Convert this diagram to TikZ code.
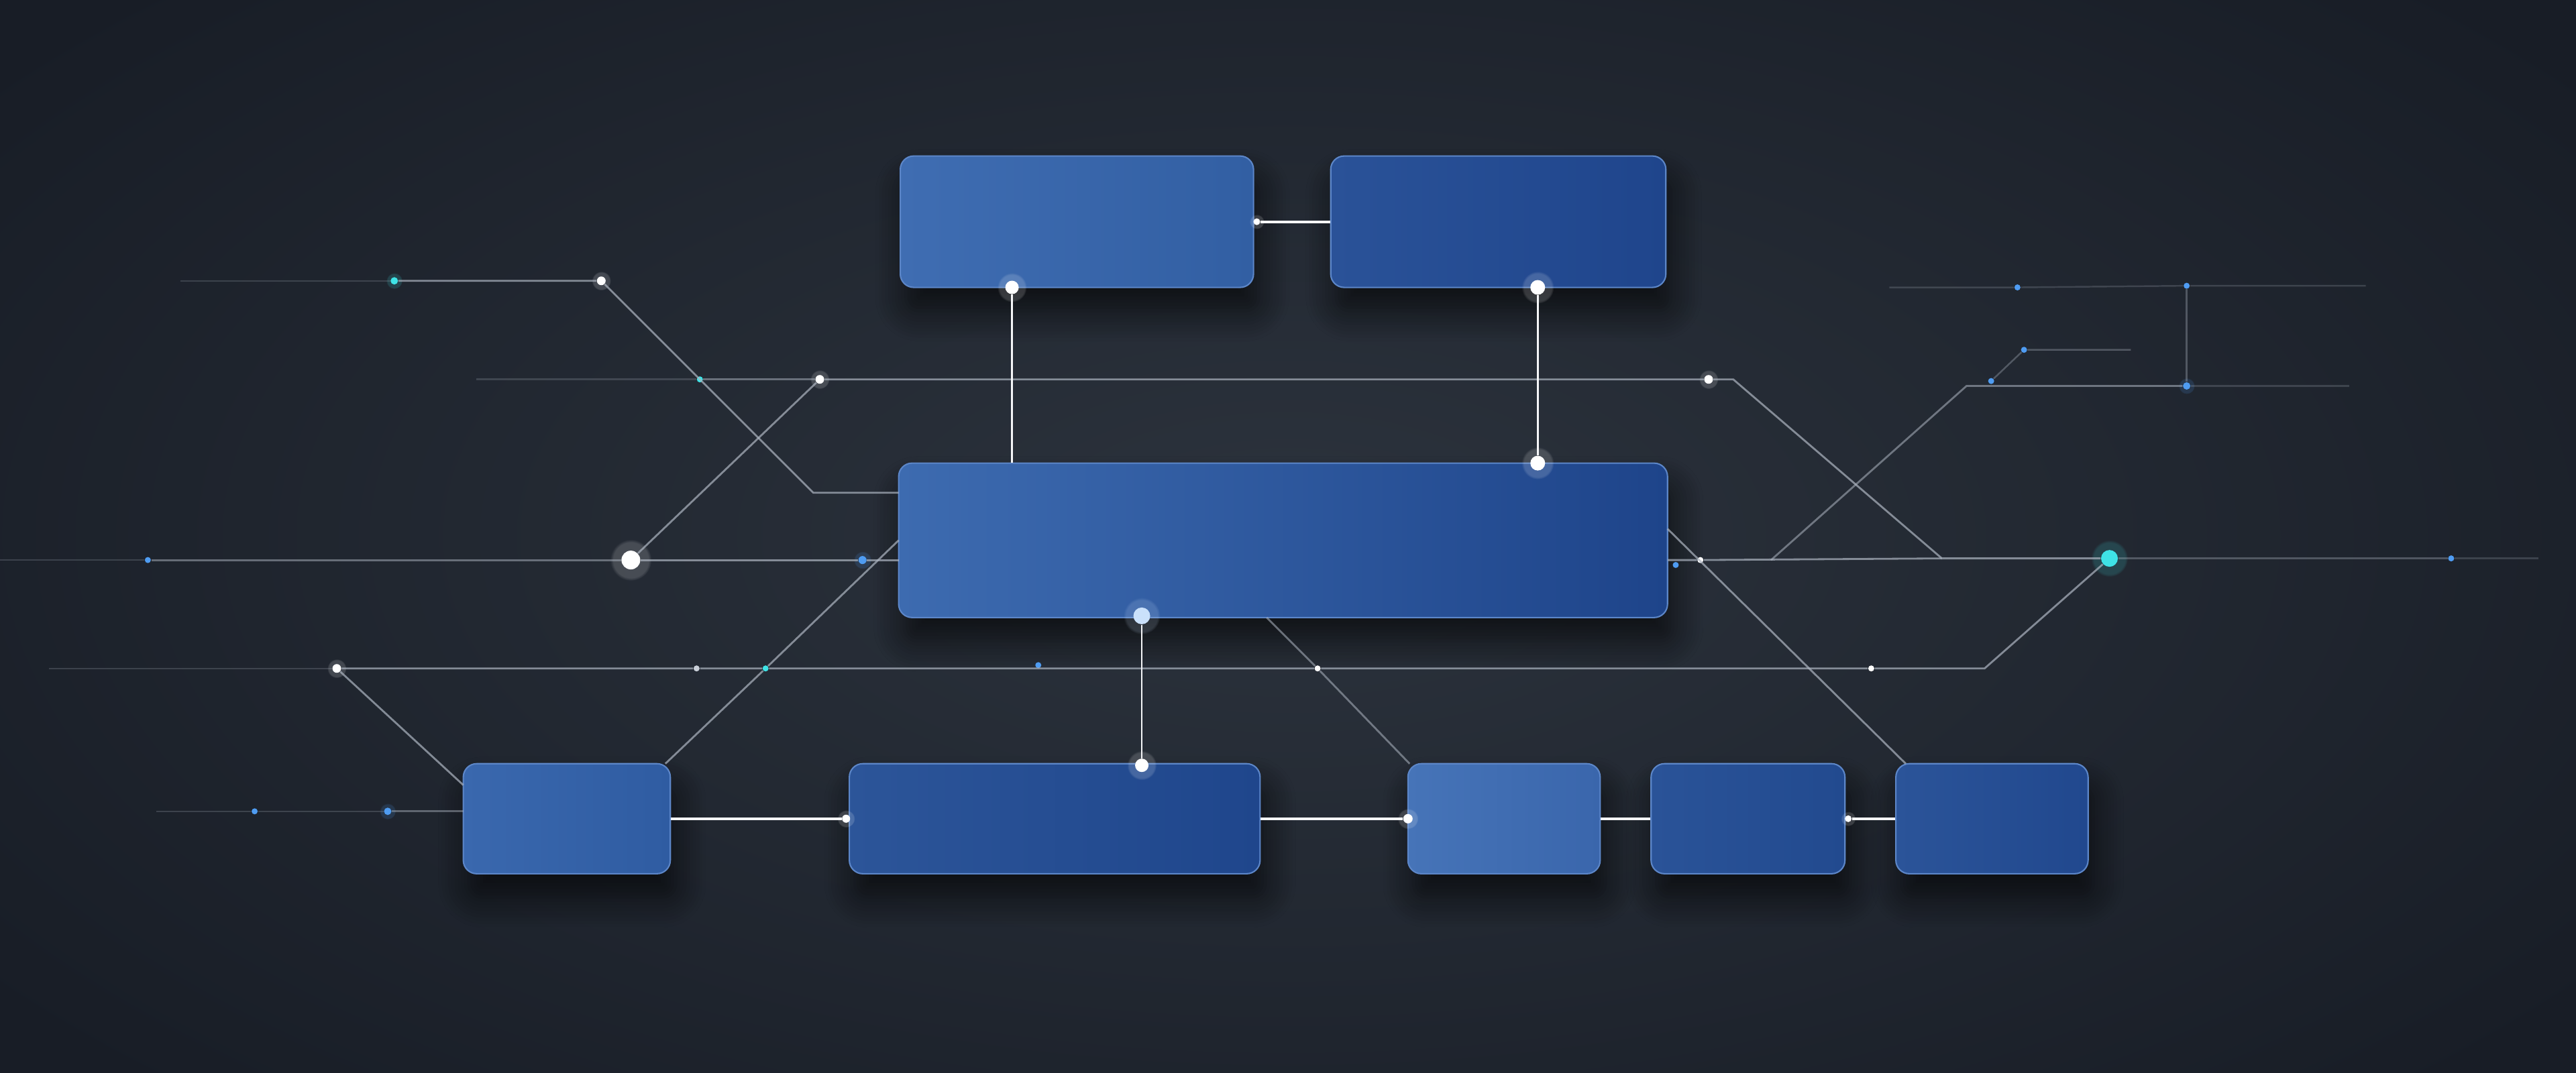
\documentclass[tikz,border=0pt]{standalone}
\usepackage{xcolor}
\usetikzlibrary{shadows, shadows.blur, fadings}

\definecolor{bgcentre}{HTML}{2C333D}
\definecolor{bgedge}{HTML}{181D26}
\definecolor{cardedge}{HTML}{5C86C8}
\definecolor{tracegrey}{HTML}{AEB6C2}
\definecolor{glowcyan}{HTML}{3FE3E6}
\definecolor{glowblue}{HTML}{4F9CF2}
\definecolor{speckgrey}{HTML}{C9CFD8}

\tikzset{
    card/.style 2 args={rectangle, draw=cardedge, line width=0.6pt, rounded corners=0.2cm, inner sep=0pt,
        minimum width=#1*0.0244898cm, minimum height=#2*0.0244898cm,
        blur shadow={shadow xshift=0.08cm, shadow yshift=-0.35cm, shadow blur radius=0.45cm, shadow blur steps=10, shadow opacity=65}},
    glowdot/.style 2 args={circle, fill=#1, inner sep=0pt, minimum size=#2,
        circular glow={fill=#1, opacity=0.16, shadow scale=2.2}},
    speck/.style={circle, fill=#1, inner sep=0pt, minimum size=0.09cm},
    trace/.style={draw=tracegrey, line width=0.8pt, opacity=0.7},
    faint/.style={draw=tracegrey, line width=0.7pt, opacity=0.22},
    link/.style={draw=white!88!tracegrey, line width=1.1pt}
}

\begin{document}
\begin{tikzpicture}[x=0.0244898cm, y=-0.0244898cm]

% Background
\useasboundingbox (0,0) rectangle (1568,653.3);
\fill[bgedge] (0,0) rectangle (1568,653.3);
\shade[inner color=bgcentre, outer color=bgedge] (-200,-150) rectangle (1768,803.3);

% Bends of the traces
\coordinate (a1) at (110,171);
\coordinate (a2) at (495,300);
\coordinate (a3) at (547,300);
\coordinate (b0) at (290,231);
\coordinate (b1) at (1055,231);
\coordinate (b2) at (1182,340);
\coordinate (b3) at (1545,340);
\coordinate (d0) at (0,341);
\coordinate (d2) at (547,341);
\coordinate (e1) at (282,478);
\coordinate (f0) at (30,407);
\coordinate (f1) at (1208,407);
\coordinate (g1) at (405,465);
\coordinate (g2) at (547,329);
\coordinate (h0) at (95,494);
\coordinate (h1) at (282,494);
\coordinate (i1) at (1015,322);
\coordinate (i2) at (1160,465);
\coordinate (j1) at (1015,341);
\coordinate (k1) at (1078,341);
\coordinate (k2) at (1197,235);
\coordinate (k3) at (1430,235);
\coordinate (l0) at (1150,175);
\coordinate (l1) at (1440,174);
\coordinate (m1) at (1297,213);
\coordinate (n1) at (771,376);
\coordinate (n2) at (858,465);

% Cards
\node[card={215}{80}, left color={rgb,255:red,63;green,109;blue,178}, right color={rgb,255:red,50;green,95;blue,163}] (srcA) at (655.5,135) {};
\node[card={204}{80}, left color={rgb,255:red,42;green,82;blue,152}, right color={rgb,255:red,31;green,69;blue,140}] (srcB) at (912,135) {};
\node[card={468}{94}, left color={rgb,255:red,61;green,107;blue,176}, right color={rgb,255:red,30;green,68;blue,138}] (hub) at (781,329) {};
\node[card={126}{67}, left color={rgb,255:red,58;green,104;blue,174}, right color={rgb,255:red,47;green,92;blue,162}] (leafA) at (345,498.5) {};
\node[card={250}{67}, left color={rgb,255:red,44;green,85;blue,153}, right color={rgb,255:red,31;green,70;blue,140}] (leafB) at (642,498.5) {};
\node[card={117}{67}, left color={rgb,255:red,70;green,116;blue,184}, right color={rgb,255:red,58;green,102;blue,172}] (leafC) at (915.5,498.5) {};
\node[card={118}{67}, left color={rgb,255:red,42;green,83;blue,152}, right color={rgb,255:red,34;green,74;blue,143}] (leafD) at (1064,498.5) {};
\node[card={117}{67}, left color={rgb,255:red,43;green,84;blue,153}, right color={rgb,255:red,33;green,72;blue,142}] (leafE) at (1212.5,498.5) {};

% Joints on the cards
\node[glowdot={white}{0.2cm}] (dA) at (616,175) {};
\node[glowdot={white}{0.22cm}] (dB) at (936,175) {};
\node[glowdot={white}{0.22cm}] (dC) at (936,282) {};
\node[glowdot={white!70!glowblue}{0.25cm}] (dD) at (695,375) {};
\node[glowdot={white}{0.2cm}] (dE) at (695,466) {};
\node[glowdot={white}{0.12cm}] (dF) at (515,498.5) {};
\node[glowdot={white}{0.14cm}] (dG) at (857,498.5) {};
\node[glowdot={white}{0.1cm}] (dH) at (1125,498.5) {};
\node[glowdot={white}{0.1cm}] (dI) at (765,135) {};

% Sparks on the traces
\node[glowdot={glowcyan}{0.11cm}] (c1) at (240,171) {};
\node[glowdot={white}{0.13cm}] (w1) at (366,171) {};
\node[glowdot={white}{0.13cm}] (w2) at (499,231) {};
\node[glowdot={white}{0.13cm}] (w3) at (1040,231) {};
\node[glowdot={white}{0.13cm}] (w4) at (205,407) {};
\node[glowdot={white}{0.28cm}] (big) at (384,341) {};
\node[glowdot={glowcyan}{0.25cm}] (hubc) at (1284,340) {};
\node[glowdot={glowblue}{0.12cm}] (s3) at (525,341) {};
\node[glowdot={glowblue}{0.11cm}] (s13) at (236,494) {};
\node[glowdot={glowblue}{0.11cm}] (s14) at (1331,235) {};
\node[speck=glowcyan] (s1) at (426,231) {};
\node[speck=glowblue] (s2) at (90,341) {};
\node[speck=speckgrey] (s4) at (424,407) {};
\node[speck=glowcyan] (s5) at (466,407) {};
\node[speck=glowblue] (s6) at (632,405) {};
\node[speck=white] (s7) at (802,407) {};
\node[speck=white] (s8) at (1139,407) {};
\node[speck=glowblue] (s9) at (1492,340) {};
\node[speck=white] (s10) at (1035,341) {};
\node[speck=glowblue] (s11) at (1020,344) {};
\node[speck=glowblue] (s12) at (155,494) {};
\node[speck=glowblue] (s15) at (1331,174) {};
\node[speck=glowblue] (s16) at (1228,175) {};
\node[speck=glowblue] (s17) at (1232,213) {};
\node[speck=glowblue] (s18) at (1212,232) {};

% Traces
\draw[faint] (a1) -- (c1);
\draw[trace] (c1) -- (w1) -- (a2) -- (a3);
\draw[faint] (b0) -- (s1);
\draw[trace, opacity=0.5] (s1) -- (w2);
\draw[trace] (w2) -- (w3) -- (b1) -- (b2) -- (hubc);
\draw[faint, opacity=0.35] (hubc) -- (s9);
\draw[faint] (s9) -- (b3);
\draw[trace] (big) -- (w2);
\draw[faint] (d0) -- (s2);
\draw[trace, opacity=0.5] (s2) -- (big);
\draw[trace] (big) -- (s3) -- (d2);
\draw[trace] (w4) -- (e1);
\draw[faint] (f0) -- (w4);
\draw[trace] (w4) -- (s4) -- (s5) -- (s7) -- (s8) -- (f1) -- (hubc);
\draw[trace] (g1) -- (s5) -- (g2);
\draw[faint] (h0) -- (s12) -- (s13);
\draw[trace, opacity=0.45] (s13) -- (h1);
\draw[trace] (i1) -- (i2);
\draw[trace] (j1) -- (s10) -- (b2);
\draw[trace, opacity=0.55] (k1) -- (k2) -- (s14);
\draw[faint] (s14) -- (k3);
\draw[faint] (l0) -- (s16) -- (s15) -- (l1);
\draw[faint, opacity=0.35] (s15) -- (s14);
\draw[faint, opacity=0.35] (s18) -- (s17) -- (m1);
\draw[trace, opacity=0.55] (n1) -- (s7) -- (n2);

% Links between the cards
\draw[link] (dI) -- (srcB.west);
\draw[link, line width=0.8pt] (dA) -- (dA |- hub.north);
\draw[link, line width=0.8pt] (dB) -- (dC);
\draw[link, line width=0.8pt] (dD) -- (dE);
\draw[link] (leafA.east) -- (dF);
\draw[link] (leafB.east) -- (dG);
\draw[link] (leafC.east) -- (leafD.west);
\draw[link] (dH) -- (leafE.west);

\end{tikzpicture}
\end{document}
